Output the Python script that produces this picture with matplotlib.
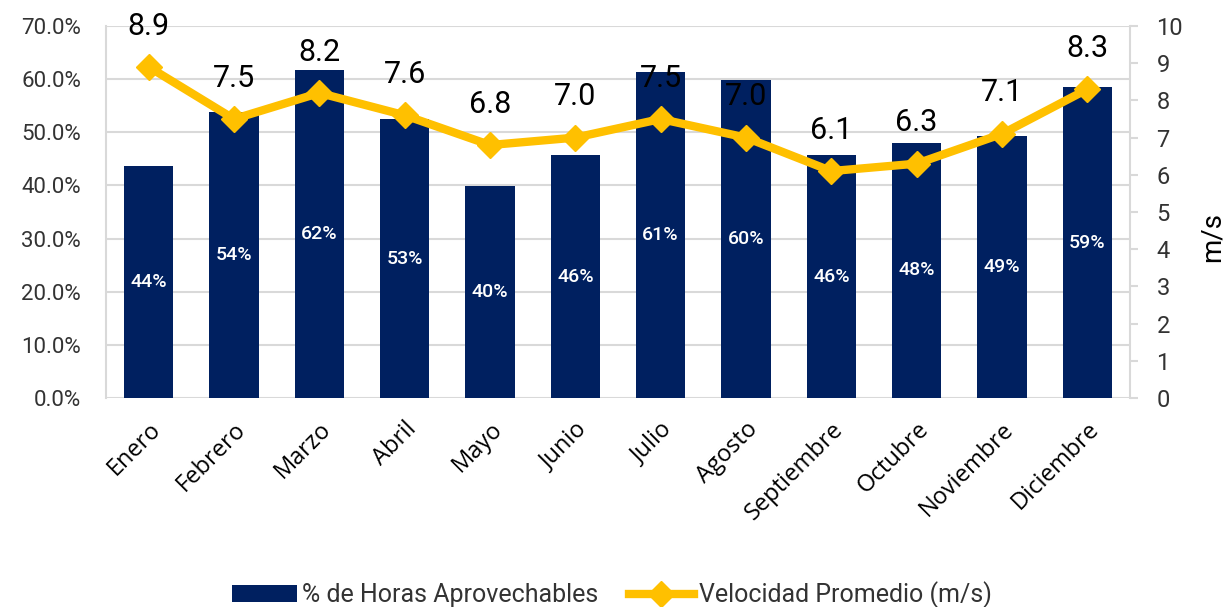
import matplotlib.pyplot as plt
import numpy as np

meses = ["Enero", "Febrero", "Marzo", "Abril", "Mayo", "Junio", "Julio",
         "Agosto", "Septiembre", "Octubre", "Noviembre", "Diciembre"]
horas_pct = [44, 54, 62, 53, 40, 46, 61, 60, 46, 48, 49, 59]
horas_real = [43.7, 53.8, 61.7, 52.5, 39.9, 45.7, 61.3, 59.8, 45.7, 48.0, 49.3, 58.5]
velocidad = [8.9, 7.5, 8.2, 7.6, 6.8, 7.0, 7.5, 7.0, 6.1, 6.3, 7.1, 8.3]

navy = "#002060"
gold = "#FFC000"
grid_c = "#D9D9D9"
txt_c = "#333333"

plt.rcParams['font.family'] = ['Roboto', 'DejaVu Sans']

fig = plt.figure(figsize=(12.24, 6.07), dpi=100)
ax = fig.add_axes([106 / 1224, 1 - 398 / 607, 1024 / 1224, 372 / 607])
x = np.arange(len(meses))

bars = ax.bar(x, horas_real, width=0.58, color=navy, zorder=2,
              label="% de Horas Aprovechables")
for xi, h, p in zip(x, horas_real, horas_pct):
    ax.text(xi, h / 2, f"{p}%", color="white", ha="center", va="center",
            fontsize=14, fontweight="medium", zorder=3)

ax.set_ylim(0, 70)
ax.set_xlim(-0.5, len(meses) - 0.5)
ax.set_yticks(np.arange(0, 71, 10))
ax.set_yticklabels([f"{v:.1f}%" for v in np.arange(0, 71, 10)])
ax.yaxis.grid(True, color=grid_c, linewidth=1.5, zorder=0)
ax.set_axisbelow(True)
ax.tick_params(axis="y", length=0, labelsize=16, labelcolor=txt_c, pad=18)
ax.tick_params(axis="x", length=0, pad=14)
ax.set_xticks(x)
ax.set_xticklabels(meses, rotation=45, ha="right", rotation_mode="anchor",
                   family=["Open Sans", "DejaVu Sans"], fontsize=17, color="black")
for s in ["top", "right", "bottom"]:
    ax.spines[s].set_visible(False)
ax.spines["left"].set_color(grid_c)
ax.spines["left"].set_linewidth(1.5)

ax2 = ax.twinx()
line, = ax2.plot(x, velocidad, color=gold, linewidth=6, marker="D",
                 markersize=13, zorder=4, label="Velocidad Promedio (m/s)")
ax2.set_ylim(0, 10)
ax2.set_yticks(range(0, 11))
ax2.tick_params(axis="y", direction="out", length=6, width=1.5, color=grid_c,
                labelsize=17, labelcolor=txt_c, pad=13)
for s in ["top", "left", "bottom"]:
    ax2.spines[s].set_visible(False)
ax2.spines["right"].set_color(grid_c)
ax2.spines["right"].set_linewidth(1.5)
fig.text(1212 / 1224, 1 - 237 / 607, "m/s", rotation=90, ha="center", va="center",
         fontsize=20, color="black")
for xi, v in zip(x, velocidad):
    ax2.annotate(f"{v:.1f}", (xi, v), xytext=(0, 19), textcoords="offset points",
                 ha="center", va="bottom", fontsize=22, color="black", zorder=5)

fig.legend([bars, line], ["% de Horas Aprovechables", "Velocidad Promedio (m/s)"],
           loc="center", bbox_to_anchor=(0.5, 12 / 607), ncol=2, frameon=False,
           fontsize=18, handlelength=2.6, columnspacing=1.2, handletextpad=0.2,
           labelcolor=txt_c)

fig.savefig("out.png", dpi=100)
